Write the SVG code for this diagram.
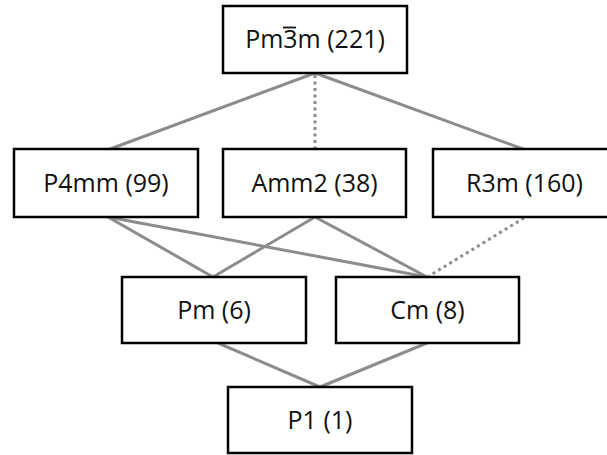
<svg xmlns="http://www.w3.org/2000/svg" width="607" height="455" viewBox="0 0 607 455">
<style>
.box{fill:#fff;stroke:#000;stroke-width:2.5}
.lbl{font-family:"Open Sans","Liberation Sans",sans-serif;font-size:25px;fill:#111;text-anchor:middle}
.e{stroke:#8c8c8c;stroke-width:3;fill:none}
.d{stroke:#8c8c8c;stroke-width:3;fill:none;stroke-dasharray:3 3.5}
</style>
<rect width="607" height="455" fill="#fff"/>
<g id="connectors">
<line class="e" x1="315" y1="73" x2="110" y2="149"/>
<line class="e" x1="315" y1="73" x2="523" y2="149"/>
<line class="d" x1="315" y1="75" x2="315" y2="149"/>
<line class="e" x1="108" y1="217" x2="213" y2="277"/>
<line class="e" x1="108" y1="217" x2="427" y2="277"/>
<line class="e" x1="315" y1="217" x2="213" y2="277"/>
<line class="e" x1="315" y1="217" x2="427" y2="277"/>
<line class="d" x1="524" y1="218" x2="429" y2="276"/>
<line class="e" x1="218" y1="343" x2="320" y2="387"/>
<line class="e" x1="427" y1="343" x2="320" y2="387"/>
</g>
<g id="n221">
<rect class="box" x="223" y="6" width="184" height="67"/>
<text class="lbl" x="315" y="48">Pm3m (221)</text>
<line x1="283" y1="27.5" x2="296" y2="27.5" stroke="#111" stroke-width="1.8"/>
</g>
<g id="n99">
<rect class="box" x="14" y="149" width="184" height="68"/>
<text class="lbl" x="106" y="192">P4mm (99)</text>
</g>
<g id="n38">
<rect class="box" x="223" y="149" width="183" height="68"/>
<text class="lbl" x="314.5" y="192">Amm2 (38)</text>
</g>
<g id="n160">
<rect class="box" x="433" y="149" width="183" height="68"/>
<text class="lbl" x="524.5" y="192">R3m (160)</text>
</g>
<g id="n6">
<rect class="box" x="122" y="277" width="184" height="66"/>
<text class="lbl" x="214" y="319">Pm (6)</text>
</g>
<g id="n8">
<rect class="box" x="336" y="277" width="183" height="66"/>
<text class="lbl" x="427.5" y="319">Cm (8)</text>
</g>
<g id="n1">
<rect class="box" x="228" y="387" width="184" height="66"/>
<text class="lbl" x="320" y="429">P1 (1)</text>
</g>
</svg>
